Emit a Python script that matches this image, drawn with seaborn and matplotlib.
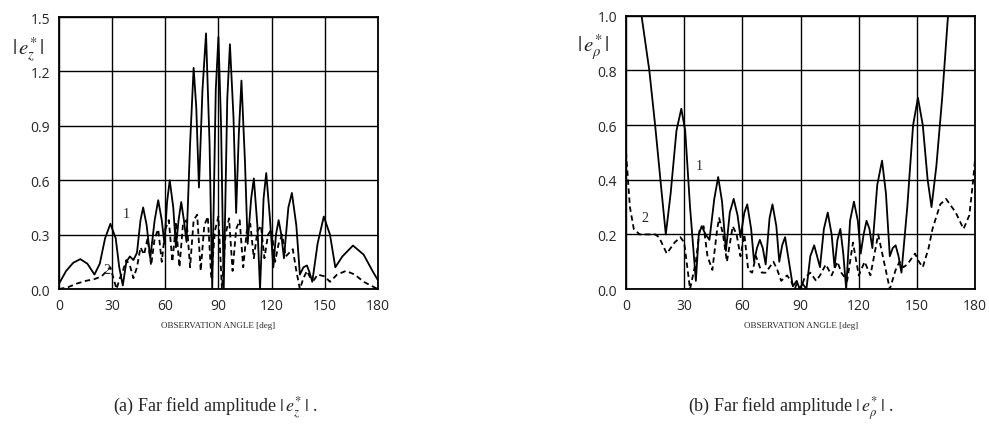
import pandas as pd
import seaborn as sns
import matplotlib.pyplot as plt
from matplotlib.ticker import MultipleLocator

# curve 1 (solid) and curve 2 (dashed), panel (a) |e*_z|
a1_angle = [0, 4, 8, 12, 16, 20, 23, 26, 29, 32, 34, 36, 38, 40, 42, 44, 46, 47.5, 49.5, 51.5,
            54, 56, 58, 59.5, 61, 62.5, 64.5, 66, 67.5, 69, 70.5, 72, 74, 76, 77.5, 79, 81, 83,
            85, 86.5, 88.5, 90, 91.5, 93, 95, 96.5, 98.5, 100, 101.5, 103, 105, 106.5, 108.5,
            110, 112, 113.5, 115.5, 117, 119, 121, 122.5, 124, 125.5, 127, 129.5, 131.5, 134,
            136, 138, 140, 141.5, 143, 146, 149.5, 153, 156, 160, 166, 172, 177, 180]
a1_value = [0.03, 0.10, 0.145, 0.165, 0.14, 0.08, 0.14, 0.28, 0.36, 0.28, 0.12, 0.02, 0.15,
            0.18, 0.16, 0.20, 0.38, 0.45, 0.35, 0.17, 0.38, 0.49, 0.38, 0.25, 0.48, 0.60, 0.45,
            0.23, 0.38, 0.48, 0.38, 0.26, 0.80, 1.22, 1.00, 0.56, 1.10, 1.41, 0.80, 0.0, 1.10,
            1.39, 0.90, 0.0, 1.05, 1.35, 0.95, 0.42, 0.85, 1.15, 0.70, 0.25, 0.50, 0.61, 0.35,
            0.0, 0.50, 0.64, 0.40, 0.12, 0.30, 0.38, 0.30, 0.17, 0.45, 0.53, 0.35, 0.08, 0.12,
            0.13, 0.09, 0.04, 0.25, 0.40, 0.30, 0.12, 0.18, 0.24, 0.19, 0.10, 0.05]

a2_angle = [0, 5, 10, 15, 20, 24, 27, 29, 31, 32.5, 34, 36, 38, 40, 42, 44, 46, 48, 50, 52,
            54, 56, 58, 60, 62, 64, 66, 68, 70, 72, 74, 76, 78, 80, 82, 84, 86, 88, 90, 92,
            94, 96, 98, 100, 102, 104, 106, 108, 110, 112, 114, 116, 118, 120, 122, 124, 126,
            128, 130, 132, 134, 136, 138, 140, 142, 144, 146, 150, 153, 157, 162, 167, 172,
            176, 180]
a2_value = [0.0, 0.01, 0.03, 0.045, 0.055, 0.07, 0.10, 0.12, 0.05, 0.0, 0.05, 0.10, 0.16,
            0.13, 0.06, 0.12, 0.23, 0.19, 0.28, 0.13, 0.28, 0.33, 0.15, 0.33, 0.38, 0.15, 0.36,
            0.12, 0.36, 0.38, 0.12, 0.38, 0.41, 0.10, 0.35, 0.40, 0.06, 0.32, 0.40, 0.0, 0.30,
            0.39, 0.10, 0.33, 0.38, 0.12, 0.32, 0.36, 0.17, 0.32, 0.35, 0.17, 0.30, 0.33, 0.15,
            0.25, 0.30, 0.18, 0.20, 0.22, 0.10, 0.0, 0.06, 0.10, 0.06, 0.05, 0.08, 0.07, 0.04,
            0.08, 0.10, 0.08, 0.04, 0.02, 0.0]

# panel (b) |e*_rho|
b1_angle = [3, 8, 12, 15, 18, 20.5, 23, 26, 28.5, 30.5, 33, 36, 37.5, 39, 41, 43, 45.5, 47.5,
            49.5, 51.5, 53.5, 55.5, 57.5, 59, 61, 62.5, 64.5, 66, 67.5, 69, 70.5, 72, 74, 75.5,
            77.5, 79, 80.5, 82, 84, 86, 88, 89.5, 91, 93, 95, 97, 98.5, 100, 102, 104, 106,
            107.5, 109, 110.5, 112, 113.5, 115.5, 117.5, 119.5, 121, 122.5, 124, 125.5, 127,
            129.5, 132, 134, 136, 137.5, 139, 140.5, 142, 145, 148, 150.5, 153, 155.5, 157.5,
            160, 163, 166, 170]
b1_value = [1.35, 1.0, 0.80, 0.60, 0.38, 0.20, 0.35, 0.58, 0.66, 0.58, 0.30, 0.03, 0.20, 0.23,
            0.20, 0.18, 0.33, 0.41, 0.32, 0.14, 0.28, 0.33, 0.27, 0.19, 0.28, 0.31, 0.22, 0.10,
            0.15, 0.18, 0.15, 0.09, 0.26, 0.31, 0.23, 0.10, 0.16, 0.19, 0.10, 0.01, 0.03, 0.0,
            0.02, 0.0, 0.12, 0.16, 0.12, 0.08, 0.22, 0.28, 0.20, 0.08, 0.18, 0.22, 0.13, 0.0,
            0.25, 0.32, 0.25, 0.13, 0.20, 0.25, 0.22, 0.15, 0.38, 0.47, 0.35, 0.12, 0.15, 0.16,
            0.12, 0.06, 0.30, 0.60, 0.70, 0.60, 0.40, 0.30, 0.45, 0.70, 1.0, 1.35]

b2_angle = [0, 2, 4, 7, 15, 17, 21, 25, 28, 30, 33, 36, 38, 40, 42, 44.5, 47, 48, 50, 52, 55,
            57, 59, 61, 63, 65, 67, 69, 70, 72, 76, 78, 80, 83, 85, 87, 88, 90, 92, 95, 98,
            100, 103, 106, 109, 111, 114, 117, 120, 123, 126, 130, 133, 136, 139, 141, 143,
            145, 149, 151, 153, 156, 158, 162, 165, 170, 174, 177, 179, 180]
b2_value = [0.50, 0.30, 0.22, 0.20, 0.20, 0.19, 0.13, 0.17, 0.19, 0.17, 0.0, 0.10, 0.22, 0.23,
            0.12, 0.07, 0.22, 0.26, 0.20, 0.10, 0.23, 0.20, 0.12, 0.20, 0.07, 0.06, 0.12, 0.08,
            0.06, 0.06, 0.10, 0.07, 0.03, 0.05, 0.03, 0.0, 0.02, 0.0, 0.04, 0.06, 0.03, 0.05,
            0.09, 0.05, 0.10, 0.06, 0.03, 0.17, 0.05, 0.10, 0.05, 0.20, 0.10, 0.0, 0.07, 0.10,
            0.08, 0.09, 0.13, 0.10, 0.08, 0.15, 0.22, 0.31, 0.33, 0.28, 0.22, 0.27, 0.40, 0.48]


def make_df(ang1, val1, ang2, val2):
    d1 = pd.DataFrame({"angle": ang1, "value": val1, "curve": "1"})
    d2 = pd.DataFrame({"angle": ang2, "value": val2, "curve": "2"})
    return pd.concat([d1, d2], ignore_index=True)


def plot_panel(ax, data, ymax, ystep, yminor, ylabel, lab1, lab2):
    sns.lineplot(data=data, x="angle", y="value", style="curve",
                 dashes={"1": "", "2": (3, 2)}, color="black", linewidth=1.3,
                 sort=False, estimator=None, legend=False, ax=ax)
    ax.set_xlim(0, 180)
    ax.set_ylim(0, ymax)
    ax.xaxis.set_major_locator(MultipleLocator(30))
    ax.xaxis.set_minor_locator(MultipleLocator(15))
    ax.yaxis.set_major_locator(MultipleLocator(ystep))
    ax.yaxis.set_minor_locator(MultipleLocator(yminor))
    ax.yaxis.set_major_formatter(plt.FormatStrFormatter("%.1f"))
    ax.grid(True, which="major", color="black", linewidth=1.0)
    ax.tick_params(which="major", direction="out", length=3, width=1, labelsize=10)
    ax.tick_params(which="minor", direction="in", length=3, width=1)
    for s in ax.spines.values():
        s.set_color("black")
        s.set_linewidth(1.3)
    ax.set_xlabel("OBSERVATION ANGLE [deg]", fontsize=6.5, family="Liberation Serif",
                  labelpad=6)
    ax.set_ylabel("")
    ax.text(-0.095, 0.885, ylabel, transform=ax.transAxes, fontsize=15,
            ha="center", va="center")
    ax.text(lab1[0], lab1[1], "1", fontsize=10, family="Liberation Serif")
    ax.text(lab2[0], lab2[1], "2", fontsize=10, family="Liberation Serif")


sns.set_style("white")
plt.rcParams["font.family"] = ["Open Sans", "DejaVu Sans"]
plt.rcParams["mathtext.fontset"] = "stix"

fig = plt.figure(figsize=(9.89, 4.31), dpi=100)
ax1 = fig.add_axes([0.0597, 0.327, 0.3223, 0.631])
ax2 = fig.add_axes([0.633, 0.327, 0.353, 0.634])

plot_panel(ax1, make_df(a1_angle, a1_value, a2_angle, a2_value), 1.5, 0.3, 0.15,
           r"$|\,e^{*}_{z}\,|$", (36, 0.40), (25, 0.09))
plot_panel(ax2, make_df(b1_angle, b1_value, b2_angle, b2_value), 1.0, 0.2, 0.1,
           r"$|\,e^{*}_{\rho}\,|$", (36, 0.44), (8, 0.25))

fig.text(0.218, 0.045, r"(a) Far field amplitude $|\,e^{*}_{z}\,|$ .", ha="center",
         fontsize=13, family="Liberation Serif")
fig.text(0.80, 0.045, r"(b) Far field amplitude $|\,e^{*}_{\rho}\,|$ .", ha="center",
         fontsize=13, family="Liberation Serif")

fig.savefig("out.png", dpi=100)
